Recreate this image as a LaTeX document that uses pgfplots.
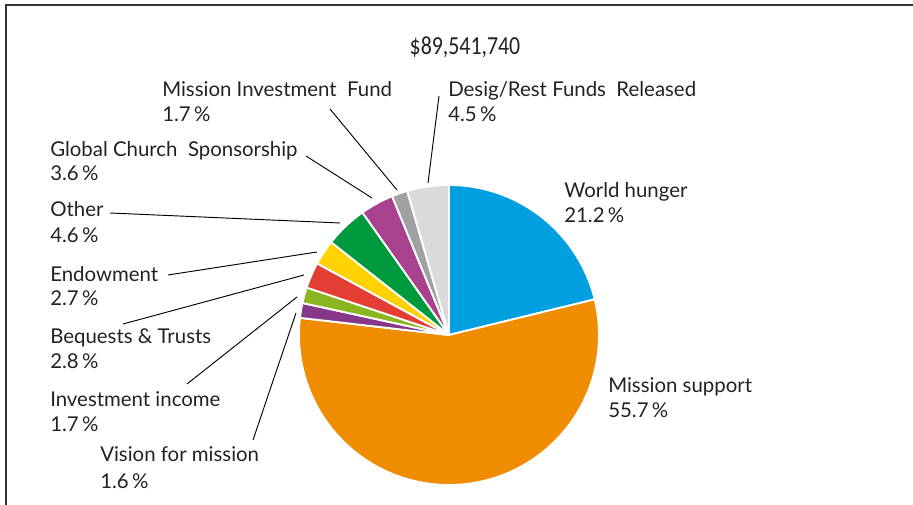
\documentclass[border=0pt]{standalone}
\usepackage{fontspec}
\setmainfont{Lato}
\newfontfamily\titlefont[FakeStretch=0.84]{Carlito}
\usepackage{pgfplots}
\usepackage{pgfplotstable}
\pgfplotsset{compat=1.18}

\definecolor{cHunger}{HTML}{009FDF}
\definecolor{cSupport}{HTML}{F08C00}
\definecolor{cVision}{HTML}{86378A}
\definecolor{cInvest}{HTML}{8AB520}
\definecolor{cBequest}{HTML}{E43D33}
\definecolor{cEndow}{HTML}{FFD200}
\definecolor{cOther}{HTML}{009A3E}
\definecolor{cGlobal}{HTML}{A8418E}
\definecolor{cMIF}{HTML}{A0A1A3}
\definecolor{cDesig}{HTML}{D9DADB}
\definecolor{txt}{HTML}{222222}
\definecolor{frame}{HTML}{333333}

% slices clockwise from 12 o'clock, share in percent
\pgfplotstableread[col sep=comma]{
share,col
21.2,cHunger
55.7,cSupport
1.6,cVision
1.7,cInvest
2.8,cBequest
2.7,cEndow
4.6,cOther
3.6,cGlobal
1.7,cMIF
4.5,cDesig
}\piedata

\def\cx{449}
\def\cy{170}
\def\rad{150}

\tikzset{
  lbl/.style={anchor=base west, text=txt, inner xsep=0pt, font=\fontsize{15.3}{18}\selectfont},
  lead/.style={black, line width=0.7pt},
}

\begin{document}
\begin{tikzpicture}
\useasboundingbox (0,0) rectangle (684.75pt,378.75pt);
\begin{axis}[
  x=0.75pt, y=0.75pt,
  xmin=0, xmax=913, ymin=0, ymax=505,
  hide axis, clip=false,
  anchor=south west, at={(0,0)},
]
\pgfplotstablegetrowsof{\piedata}
\pgfmathtruncatemacro\nrows{\pgfplotsretval-1}
\def\total{0}
\pgfplotsforeachungrouped \i in {0,...,\nrows}{%
  \pgfplotstablegetelem{\i}{share}\of\piedata
  \pgfmathsetmacro\total{\total+\pgfplotsretval}%
}
\def\cum{0}
\pgfplotsforeachungrouped \i in {0,...,\nrows}{%
  \pgfplotstablegetelem{\i}{share}\of\piedata
  \pgfmathsetmacro\a{90-(\cum/\total)*360}%
  \pgfmathsetmacro\cum{\cum+\pgfplotsretval}%
  \pgfmathsetmacro\b{90-(\cum/\total)*360}%
  \pgfplotstablegetelem{\i}{col}\of\piedata
  \edef\slice{\noexpand\addplot[fill=\pgfplotsretval, draw=white, line width=1.4pt,
    line join=round, domain=\b:\a, samples=90]
    ({\cx+\rad*cos(x)},{\cy+\rad*sin(x)}) -- (axis cs:\cx,\cy) -- cycle;}%
  \slice
}

% frame
\draw[frame, line width=1.1pt] (axis cs:6,0) -- (axis cs:6,500) -- (axis cs:913,500);

% title
\node[anchor=base, text=txt, font=\titlefont\fontsize{19.5}{22}\selectfont] at (axis cs:465,450) {\$89,541,740};

% leader lines
\draw[lead] (axis cs:330,396) -- (axis cs:397,315);
\draw[lead] (axis cs:439,409) -- (axis cs:428,322);
\draw[lead] (axis cs:306,349) -- (axis cs:372,307);
\draw[lead] (axis cs:110,292) -- (axis cs:340,282);
\draw[lead] (axis cs:168,230) -- (axis cs:317,253);
\draw[lead] (axis cs:123,181) -- (axis cs:304,230);
\draw[lead] (axis cs:187,121) -- (axis cs:297,208);
\draw[lead] (axis cs:253,65) -- (axis cs:296,192);

% labels (baselines)
\node[lbl] at (axis cs:162,408) {Mission Investment\ \ Fund};
\node[lbl] at (axis cs:162,383) {1.7\,\%};
\node[lbl] at (axis cs:448,408) {Desig/Rest Funds\ \ Released};
\node[lbl] at (axis cs:448,383) {4.5\,\%};
\node[lbl] at (axis cs:50,348) {Global Church\ \ Sponsorship};
\node[lbl] at (axis cs:50,324) {3.6\,\%};
\node[lbl] at (axis cs:50,288) {Other};
\node[lbl] at (axis cs:50,262) {4.6\,\%};
\node[lbl] at (axis cs:50,223) {Endowment};
\node[lbl] at (axis cs:50,199) {2.7\,\%};
\node[lbl] at (axis cs:50,161) {Bequests \& Trusts};
\node[lbl] at (axis cs:50,136) {2.8\,\%};
\node[lbl] at (axis cs:50,98) {Investment income};
\node[lbl] at (axis cs:50,73) {1.7\,\%};
\node[lbl] at (axis cs:100,43) {Vision for mission};
\node[lbl] at (axis cs:100,16) {1.6\,\%};
\node[lbl] at (axis cs:564,307) {World hunger};
\node[lbl] at (axis cs:564,282) {21.2\,\%};
\node[lbl] at (axis cs:608,112) {Mission support};
\node[lbl] at (axis cs:608,87) {55.7\,\%};
\end{axis}
\end{tikzpicture}
\end{document}
